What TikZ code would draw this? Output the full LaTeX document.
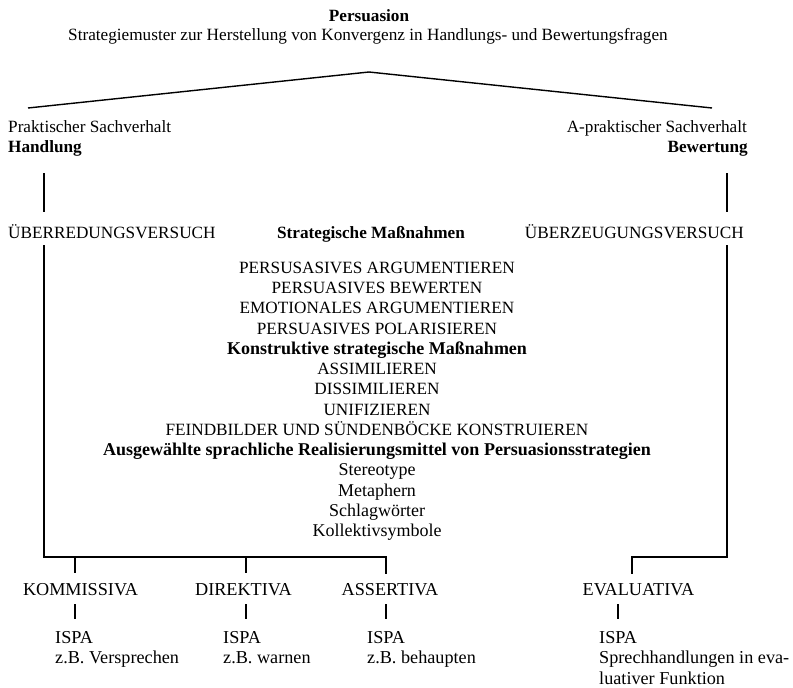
\documentclass[tikz,border=0pt]{standalone}
\usepackage{fontspec}
\setmainfont{Liberation Serif}
\begin{document}
\begin{tikzpicture}[x=1pt,y=-1pt,
  every node/.style={inner sep=0pt, font=\fontsize{17.2}{20}\selectfont},
  lbl/.style={anchor=base west},
  rlbl/.style={anchor=base east},
  clbl/.style={anchor=base},
  big/.style={font=\fontsize{18.2}{20}\selectfont},
  link/.style={line width=1.4pt, line cap=rect}]
\useasboundingbox (0,0) rectangle (793,688);

% header
\node[clbl] (title) at (369,21.5) {\textbf{Persuasion}};
\node[clbl] (sub) at (368,40.5) {Strategiemuster zur Herstellung von Konvergenz in Handlungs- und Bewertungsfragen};

% branching roof
\coordinate (apex) at (369,72);
\coordinate (roofL) at (28,108);
\coordinate (roofR) at (712,108);
\draw[link, line cap=butt] (roofL) -- (apex) -- (roofR);

% the two kinds of facts
\node[lbl] (prakt) at (8,132.5) {Praktischer Sachverhalt};
\node[lbl] (handl) at (8,152.5) {\textbf{Handlung}};
\node[rlbl] (aprakt) at (747,132.5) {A-praktischer Sachverhalt};
\node[rlbl] (bewert) at (748,152.5) {\textbf{Bewertung}};

% attempts
\node[lbl] (ueberr) at (8,238.5) {ÜBERREDUNGSVERSUCH};
\node[clbl] (strat) at (371,238.5) {\textbf{Strategische Maßnahmen}};
\node[rlbl] (ueberz) at (744,238.5) {ÜBERZEUGUNGSVERSUCH};

% list of measures
\newcommand\larger[1]{{\fontsize{18}{20}\selectfont #1}}
\foreach \txt [count=\i] in {PERSUSASIVES ARGUMENTIEREN, PERSUASIVES BEWERTEN,
  EMOTIONALES ARGUMENTIEREN, PERSUASIVES POLARISIEREN,
  \larger{\textbf{Konstruktive strategische Maßnahmen}},
  ASSIMILIEREN, DISSIMILIEREN,
  UNIFIZIEREN, FEINDBILDER UND SÜNDENBÖCKE KONSTRUIEREN,
  \larger{\textbf{Ausgewählte sprachliche Realisierungsmittel von Persuasionsstrategien}},
  \larger{Stereotype}, \larger{Metaphern}, \larger{Schlagwörter}, \larger{Kollektivsymbole}}
  \node[clbl] (m\i) at (377,{273.5+20.23*(\i-1)}) {\txt};

% speech act classes
\node[clbl, big] (kom) at (80.5,595.5) {KOMMISSIVA};
\node[clbl, big] (dir) at (243.5,595.5) {DIREKTIVA};
\node[clbl, big] (ass) at (390,595.5) {ASSERTIVA};
\node[clbl, big] (eva) at (638.5,595.5) {EVALUATIVA};

% ISPA entries
\node[lbl, big] (k1) at (55,643.5) {ISPA};
\node[lbl, big] (k2) at (55,663.5) {z.B. Versprechen};
\node[lbl, big] (d1) at (223,643.5) {ISPA};
\node[lbl, big] (d2) at (223,663.5) {z.B. warnen};
\node[lbl, big] (a1) at (367,643.5) {ISPA};
\node[lbl, big] (a2) at (367,663.5) {z.B. behaupten};
\node[lbl, big] (e1) at (599,643.5) {ISPA};
\node[lbl, big] (e2) at (599,663.5) {Sprechhandlungen in eva-};
\node[lbl, big] (e3) at (599,684) {luativer Funktion};

% connector points
\coordinate (lTop) at (44,173);
\coordinate (lMid) at (44,212);
\coordinate (lLow) at (44,246);
\coordinate (rTop) at (727,173);
\coordinate (rMid) at (727,212);
\coordinate (rLow) at (727,246);
\coordinate (lBar) at (44,557);
\coordinate (rBar) at (727,557);
\coordinate (kBar) at (75,557);
\coordinate (dBar) at (246,557);
\coordinate (aBar) at (386,557);
\coordinate (eBar) at (632,557);
\coordinate (kT) at (75,573);
\coordinate (dT) at (246,573);
\coordinate (aT) at (386,573);
\coordinate (eT) at (632,573);
\coordinate (kU) at (75,604);
\coordinate (dU) at (246,604);
\coordinate (aU) at (386,604);
\coordinate (eU) at (618,604);
\coordinate (kV) at (75,619);
\coordinate (dV) at (246,619);
\coordinate (aV) at (386,619);
\coordinate (eV) at (618,619);

\draw[link, line cap=butt] (lTop) -- (lMid);
\draw[link, line cap=butt] (rTop) -- (rMid);
\draw[link] (lLow) -- (lBar) -- (aBar) -- (aT);
\draw[link, line cap=butt] (kBar) -- (kT);
\draw[link, line cap=butt] (dBar) -- (dT);
\draw[link] (rLow) -- (rBar) -- (eBar) -- (eT);
\foreach \a/\b in {kU/kV, dU/dV, aU/aV, eU/eV}
  \draw[link, line cap=butt] (\a) -- (\b);
\end{tikzpicture}
\end{document}
